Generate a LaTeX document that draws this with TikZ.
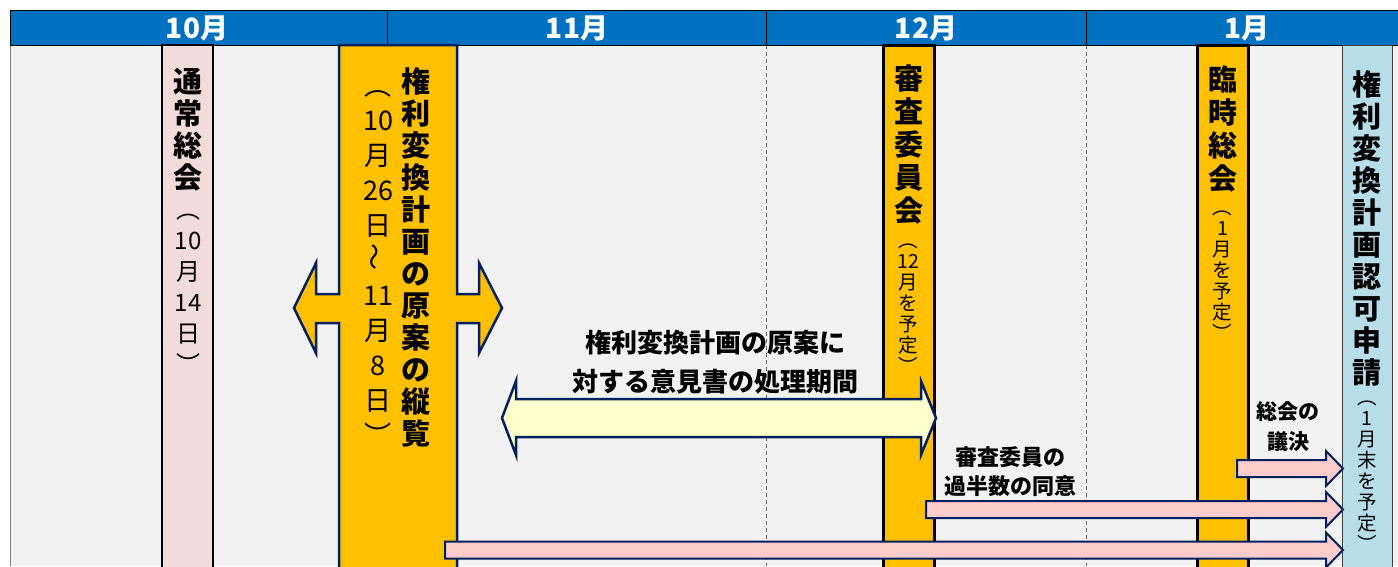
\documentclass[tikz,border=0pt]{standalone}
\usepackage{fontspec}
\setmainfont{Noto Sans CJK JP}
\usepackage{graphicx}
\usetikzlibrary{positioning}

\definecolor{hdrblue}{HTML}{0070C0}
\definecolor{bodygray}{HTML}{F2F2F2}
\definecolor{colyellow}{HTML}{FFC000}
\definecolor{colpink}{HTML}{F2DCDB}
\definecolor{colblue}{HTML}{B7DEE8}
\definecolor{navy}{HTML}{002060}
\definecolor{paleyellow}{HTML}{FFFFCC}
\definecolor{arrowpink}{HTML}{FFCCCC}

\tikzset{
	month/.style={text=white, inner sep=0pt, font=\fontsize{28}{28}\selectfont\bfseries},
	tate/.style={anchor=north, align=center, inner sep=0pt, font=\fontsize{29}{32}\selectfont\bfseries},
	tatesub/.style={anchor=north, align=center, inner sep=0pt},
	note/.style={align=center, inner sep=0pt},
	pinkarrow/.style={fill=arrowpink, draw=navy, line width=2pt},
}

\begin{document}
\begin{tikzpicture}[x=1pt,y=-1pt]
	\useasboundingbox (0,0) rectangle (1398,566);
	\clip (0,0) rectangle (1398,566);
	% background and month grid
	\fill[bodygray] (10,45) rectangle (1398,566);
	\draw[gray] (10,45) -- (10,566);
	\foreach \x in {766,1086}
		\draw[gray!80!black, line width=.8pt, dash pattern=on 4pt off 3pt] (\x,45) -- (\x,566);
	\draw[fill=hdrblue, line width=1pt] (10,10) rectangle (1402,45);
	\foreach \x in {387,766,1086}
		\draw[line width=1pt] (\x,10) -- (\x,45);
	\node[month] (m10) at (197,28) {10月};
	\node[month] (m11) at (577,28) {11月};
	\node[month] (m12) at (926,28) {12月};
	\node[month] (m1) at (1247,28) {1月};
	% columns
	\draw[fill=colpink, line width=1.2pt] (162,45) rectangle (213,570);
	\draw[fill=colyellow, line width=3pt] (883,45) rectangle (934,570);
	\draw[fill=colyellow, line width=3pt] (1197,45) rectangle (1248,570);
	\draw[fill=colblue, draw=black!75, line width=1pt] (1342,45) rectangle (1392,570);
	\draw[fill=colyellow, draw=navy, line width=2.5pt] (339,45) -- (457,45) -- (457,294) -- (479,294) -- (479,263) -- (502,308) -- (479,353) -- (479,323) -- (457,323) -- (457,570)
		-- (339,570) -- (339,323) -- (316,323) -- (316,353) -- (294,308) -- (316,263) -- (316,294) -- (339,294) -- cycle;
	% arrows
	\draw[fill=paleyellow, draw=navy, line width=2.5pt] (502,418) -- (516,381) -- (516,399) -- (921,399) -- (921,381) -- (936,418) -- (921,455) -- (921,437) -- (516,437) -- (516,455) -- cycle;
	\foreach \xs/\yc in {1237/468.5, 926/509.5, 445/550}
		\draw[pinkarrow] (\xs,\yc-8.5) -- (1326,\yc-8.5) -- (1326,\yc-17.5) -- (1343,\yc) -- (1326,\yc+17.5) -- (1326,\yc+8.5) -- (\xs,\yc+8.5) -- cycle;
	% texts
	\node[tate] (tsuujou) at (188,68) {通\\常\\総\\会};
	\node[tatesub, below=22pt of tsuujou, font=\fontsize{24}{31}\selectfont] (tsuujouDate) {︵\\10\\月\\14\\日\\︶};
	\node[tate] (juuran) at (416,67) {権\\利\\変\\換\\計\\画\\の\\原\\案\\の\\縦\\覧};
	\node[tatesub, font=\fontsize{27}{35}\selectfont] (juuranDate) at (378,90) {︵\\10\\月\\26\\日\\\rotatebox{90}{～}\\11\\月\\8\\日\\︶};
	\node[tate, font=\fontsize{29}{33}\selectfont\bfseries] (shinsa) at (908.5,65) {審\\査\\委\\員\\会};
	\node[tatesub, below=19pt of shinsa, font=\fontsize{19.5}{21}\selectfont] (shinsaDate) {︵\\12\\月\\を\\予\\定\\︶};
	\node[tate, font=\fontsize{29}{33}\selectfont\bfseries] (rinji) at (1222.5,65) {臨\\時\\総\\会};
	\node[tatesub, below=19pt of rinji, font=\fontsize{19.5}{21}\selectfont] (rinjiDate) {︵\\1\\月\\を\\予\\定\\︶};
	\node[tate] (ninka) at (1367,70) {権\\利\\変\\換\\計\\画\\認\\可\\申\\請};
	\node[tatesub, below=15pt of ninka, font=\fontsize{19.5}{21}\selectfont] (ninkaDate) {︵\\1\\月\\末\\を\\予\\定\\︶};
	\node[note, font=\fontsize{26}{39}\selectfont\bfseries] (iken) at (715,362) {権利変換計画の原案に\\対する意見書の処理期間};
	\node[note, font=\fontsize{22}{29}\selectfont\bfseries] (doui) at (1010,472) {審査委員の\\過半数の同意};
	\node[note, font=\fontsize{21}{30}\selectfont\bfseries] (giketsu) at (1288,427) {総会の\\議決};
\end{tikzpicture}
\end{document}
